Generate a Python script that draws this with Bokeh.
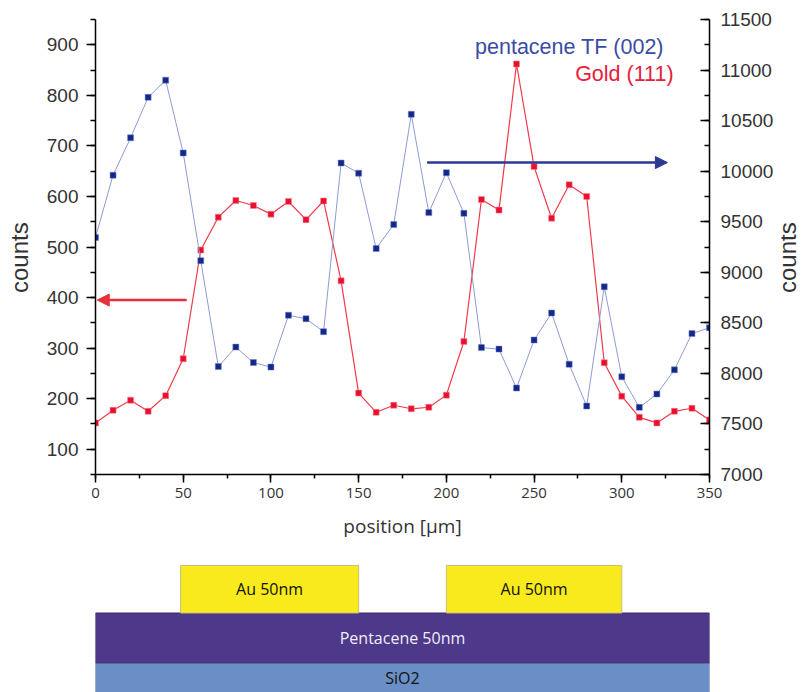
from bokeh.plotting import figure
from bokeh.models import (Range1d, LinearAxis, SingleIntervalTicker, ColumnDataSource,
                          Arrow, NormalHead, Label)
from bokeh.layouts import column, row
from bokeh.embed import file_html
from bokeh.resources import INLINE
import math

# ---------------- data ----------------
position = [0, 10, 20, 30, 40, 50, 60, 70, 80, 90, 100, 110, 120, 130, 140, 150, 160, 170,
            180, 190, 200, 210, 220, 230, 240, 250, 260, 270, 280, 290, 300, 310, 320, 330,
            340, 350]
# Gold (111) counts, left axis
gold_counts = [152, 177, 197, 175, 206, 279, 494, 559, 592, 582, 565, 590, 554, 591, 433, 211,
               173, 187, 180, 183, 207, 313, 594, 573, 862, 659, 557, 623, 600, 271, 205, 163,
               152, 175, 181, 158]
# pentacene TF (002) counts, right axis
pentacene_counts = [9345, 9960, 10330, 10730, 10900, 10180, 9115, 8067, 8260, 8107, 8062, 8575,
                    8540, 8413, 10080, 9980, 9235, 9472, 10562, 9590, 9985, 9583, 8255, 8240,
                    7855, 8330, 8597, 8090, 7677, 8857, 7966, 7664, 7796, 8035, 8394, 8452]

# schematic of the sample (positions in µm)
au_left = [48.5, 200]
au_right = [150, 300]
au_labels = ["Au 50nm", "Au 50nm"]
film_left = [0, 0]
film_right = [350, 350]
film_labels = ["Pentacene 50nm", "SiO2"]

axis_title = "counts"

# ---------------- chart ----------------
BLUE_MARK = "#14288c"
BLUE_LINE = "#8d9bd4"
RED = "#e8102e"

CHART_H = 554
LEFT_W, RIGHT_W = 34, 22
MAIN_W = 803 - LEFT_W - RIGHT_W

p = figure(width=MAIN_W, height=CHART_H, output_backend="svg", toolbar_location=None,
           x_range=Range1d(0, 350), y_range=Range1d(50, 950),
           min_border_left=95 - LEFT_W, min_border_right=LEFT_W + MAIN_W - 709,
           min_border_top=19, min_border_bottom=80)
p.outline_line_color = None
p.grid.visible = False
p.background_fill_color = "white"
p.border_fill_color = "white"
p.extra_y_ranges = {"right": Range1d(7000, 11500)}

src = ColumnDataSource(dict(x=position, gold=gold_counts, pent=pentacene_counts))

p.line("x", "gold", source=src, line_color="#f03a4a", line_width=1.2)
p.scatter("x", "gold", source=src, marker="square", size=6, fill_color=RED,
          line_color="#ff8090", line_width=0.5)
p.line("x", "pent", source=src, y_range_name="right", line_color=BLUE_LINE, line_width=1)
p.scatter("x", "pent", source=src, y_range_name="right", marker="square", size=6,
          fill_color=BLUE_MARK, line_color="#7080c0", line_width=0.5)

# left axis
yl = p.yaxis[0]
yl.ticker = SingleIntervalTicker(interval=100, num_minor_ticks=2)
yl.major_tick_out = 9
yl.major_tick_in = 0
yl.minor_tick_out = 5
yl.minor_tick_in = 0
yl.axis_line_width = 1.5
yl.major_tick_line_width = 1.5
yl.minor_tick_line_width = 1.5
yl.major_label_text_font = "Liberation Sans"
yl.major_label_text_font_size = "19px"
yl.major_label_text_color = "#333333"
yl.major_label_standoff = 8

# bottom axis
xb = p.xaxis[0]
xb.ticker = SingleIntervalTicker(interval=50, num_minor_ticks=2)
xb.major_tick_out = 8
xb.major_tick_in = 0
xb.minor_tick_out = 4
xb.minor_tick_in = 0
xb.axis_line_width = 1.5
xb.major_tick_line_width = 1.5
xb.minor_tick_line_width = 1.5
xb.major_label_text_font = "Open Sans"
xb.major_label_text_font_size = "15px"
xb.major_label_text_color = "#333333"
xb.major_label_standoff = 5
xb.axis_label = "position [µm]"
xb.axis_label_text_font = "Open Sans"
xb.axis_label_text_font_size = "19px"
xb.axis_label_text_font_style = "normal"
xb.axis_label_text_color = "#333333"
xb.axis_label_standoff = 12

# right axis
yr = LinearAxis(y_range_name="right")
yr.ticker = SingleIntervalTicker(interval=500, num_minor_ticks=2)
yr.major_tick_in = 9
yr.major_tick_out = 0
yr.minor_tick_in = 5
yr.minor_tick_out = 0
yr.axis_line_width = 1.5
yr.major_tick_line_width = 1.5
yr.minor_tick_line_width = 1.5
yr.major_label_text_font = "Liberation Sans"
yr.major_label_text_font_size = "19px"
yr.major_label_text_color = "#333333"
yr.major_label_standoff = 11
p.add_layout(yr, "right")

# arrows pointing to the axis of each series
p.add_layout(Arrow(end=NormalHead(size=12, fill_color="#e8303c", line_color="#e8303c"),
                   x_start=52, y_start=395, x_end=1, y_end=395,
                   line_color="#e8303c", line_width=2.5))
p.add_layout(Arrow(end=NormalHead(size=12, fill_color="#2b3990", line_color="#2b3990"),
                   x_start=189, y_start=10085, x_end=326, y_end=10085, y_range_name="right",
                   line_color="#2b3990", line_width=2.5))

# legend texts
p.add_layout(Label(x=324, y=896, text="pentacene TF (002)", text_align="right",
                   text_baseline="alphabetic", text_font="Liberation Sans",
                   text_font_size="21.5px", text_color="#3b4ba3"))
p.add_layout(Label(x=329.5, y=843, text="Gold (111)", text_align="right",
                   text_baseline="alphabetic", text_font="Liberation Sans",
                   text_font_size="21.5px", text_color="#e8203a"))


# ---------------- axis titles in narrow side strips ----------------
def title_strip(w, center_x):
    q = figure(width=w, height=CHART_H, output_backend="svg", toolbar_location=None,
               x_range=Range1d(0, w), y_range=Range1d(0, CHART_H),
               x_axis_location=None, y_axis_location=None, title=None,
               min_border_left=0, min_border_right=0, min_border_top=0, min_border_bottom=0)
    q.outline_line_color = None
    q.grid.visible = False
    q.add_layout(Label(x=center_x, y=CHART_H - 290, text=axis_title, angle=math.pi / 2,
                       text_align="center", text_baseline="middle",
                       text_font="Liberation Sans", text_font_size="24px",
                       text_color="#333333"))
    return q


ql = title_strip(LEFT_W, 19)
qr = title_strip(RIGHT_W, 787 - (LEFT_W + MAIN_W))

# ---------------- schematic ----------------
s = figure(width=803, height=692 - CHART_H, output_backend="svg", toolbar_location=None,
           x_range=Range1d(0, 350), y_range=Range1d(0, 692 - CHART_H),
           x_axis_location=None, y_axis_location=None,
           min_border_left=95, min_border_right=94, min_border_top=0, min_border_bottom=0)
s.outline_line_color = None
s.grid.visible = False

AU_TOP, AU_BOT = 127, 79.5
PENT_BOT = 29.7

s.quad(left=[film_left[1]], right=[film_right[1]], top=[PENT_BOT], bottom=[-5],
       fill_color="#6a8ec6", line_color="#5a7cb6", line_width=1)
s.quad(left=[film_left[0]], right=[film_right[0]], top=[AU_BOT], bottom=[PENT_BOT],
       fill_color="#4e3889", line_color="#3a2a6a", line_width=1)
s.quad(left=au_left, right=au_right, top=AU_TOP, bottom=AU_BOT,
       fill_color="#f8ea1c", line_color="#c9c07a", line_width=1)

for l, r, t in zip(au_left, au_right, au_labels):
    s.add_layout(Label(x=(l + r) / 2, y=(AU_TOP + AU_BOT) / 2, text=t, text_align="center",
                       text_baseline="middle", text_font="Open Sans", text_font_size="16px",
                       text_color="#111111"))
s.add_layout(Label(x=(film_left[0] + film_right[0]) / 2, y=(AU_BOT + PENT_BOT) / 2,
                   text=film_labels[0], text_align="center", text_baseline="middle",
                   text_font="Open Sans", text_font_size="16px", text_color="#f0eef8"))
s.add_layout(Label(x=(film_left[1] + film_right[1]) / 2, y=15, text=film_labels[1],
                   text_align="center", text_baseline="middle", text_font="Open Sans",
                   text_font_size="16px", text_color="#111111"))

layout = column(row(ql, p, qr), s)
open("out.html", "w").write(file_html(layout, INLINE))
